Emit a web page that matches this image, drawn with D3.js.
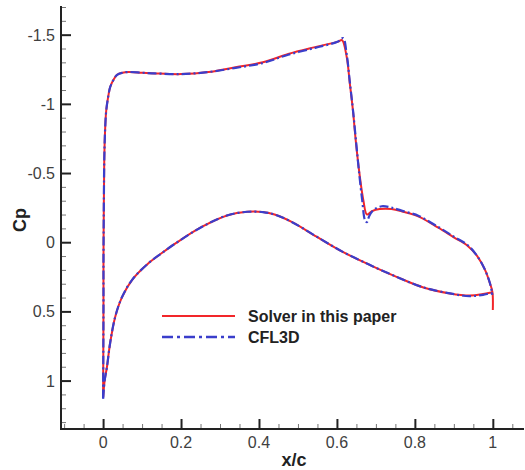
<!DOCTYPE html>
<html>
<head>
<meta charset="utf-8">
<script src="https://cdn.jsdelivr.net/npm/d3@7"></script>
<style>
body { margin: 0; background: #fff; }
svg { display: block; }
.tick-label { font-family: "Liberation Sans", Arial, sans-serif; font-size: 16px; fill: #404040; }
.axis-title { font-family: "Liberation Sans", Arial, sans-serif; font-size: 18px; font-weight: bold; fill: #222; }
.legend-text { font-family: "Liberation Sans", Arial, sans-serif; font-size: 16px; font-weight: bold; fill: #222; }
</style>
</head>
<body>
<svg width="525" height="470"></svg>
<script>
// x/c, Cp pairs
var solverUpper = [
    [0.000, 1.12], [0.0005, 0.85], [0.001, 0.45], [0.001, 0.13], [0.002, -0.3],
    [0.003, -0.59], [0.005, -0.8], [0.008, -0.95], [0.013, -1.05], [0.018, -1.12],
    [0.026, -1.17], [0.036, -1.21], [0.05, -1.225], [0.065, -1.23], [0.1, -1.225],
    [0.133, -1.22], [0.2, -1.215], [0.27, -1.23], [0.34, -1.265], [0.41, -1.30],
    [0.475, -1.36], [0.544, -1.41], [0.603, -1.45], [0.613, -1.46], [0.625, -1.34],
    [0.633, -1.15], [0.641, -0.955], [0.649, -0.715], [0.659, -0.47], [0.668, -0.3],
    [0.677, -0.2], [0.69, -0.225], [0.71, -0.24], [0.74, -0.24], [0.77, -0.22],
    [0.81, -0.185], [0.86, -0.105], [0.9, -0.035], [0.935, 0.025], [0.96, 0.1],
    [0.98, 0.2], [0.993, 0.3], [0.999, 0.36], [1.0, 0.49]
];
var solverLower = [
    [0.000, 1.12], [0.004, 1.0], [0.01, 0.9], [0.018, 0.73], [0.031, 0.54],
    [0.048, 0.40], [0.075, 0.27], [0.115, 0.155], [0.15, 0.08], [0.185, 0.01],
    [0.253, -0.11], [0.32, -0.195], [0.37, -0.22], [0.41, -0.218], [0.44, -0.2],
    [0.485, -0.145], [0.548, -0.04], [0.615, 0.07], [0.685, 0.165], [0.753, 0.25],
    [0.82, 0.325], [0.89, 0.37], [0.94, 0.385], [0.975, 0.375], [0.993, 0.365],
    [1.0, 0.36]
];
var cfl3dUpper = [
    [0.000, 1.13], [0.0005, 0.85], [0.001, 0.45], [0.001, 0.13], [0.002, -0.3],
    [0.003, -0.59], [0.005, -0.8], [0.008, -0.95], [0.013, -1.05], [0.018, -1.12],
    [0.026, -1.17], [0.036, -1.21], [0.05, -1.225], [0.065, -1.23], [0.1, -1.225],
    [0.133, -1.22], [0.2, -1.215], [0.27, -1.23], [0.34, -1.26], [0.41, -1.295],
    [0.475, -1.355], [0.544, -1.405], [0.603, -1.45], [0.616, -1.475], [0.625, -1.36],
    [0.633, -1.16], [0.641, -0.96], [0.649, -0.73], [0.657, -0.5], [0.665, -0.3],
    [0.672, -0.16], [0.677, -0.145], [0.683, -0.19], [0.695, -0.235], [0.715, -0.26],
    [0.74, -0.25], [0.77, -0.225], [0.81, -0.19], [0.86, -0.11], [0.9, -0.04],
    [0.935, 0.02], [0.96, 0.1], [0.98, 0.2], [0.993, 0.3], [0.999, 0.38]
];
var cfl3dLower = [
    [0.000, 1.13], [0.004, 1.0], [0.01, 0.9], [0.018, 0.73], [0.031, 0.54],
    [0.048, 0.40], [0.075, 0.27], [0.115, 0.155], [0.15, 0.08], [0.185, 0.01],
    [0.253, -0.11], [0.32, -0.195], [0.37, -0.22], [0.41, -0.218], [0.44, -0.2],
    [0.485, -0.145], [0.548, -0.04], [0.615, 0.07], [0.685, 0.165], [0.753, 0.25],
    [0.82, 0.325], [0.89, 0.37], [0.94, 0.39], [0.975, 0.38], [0.993, 0.37],
    [1.0, 0.37]
];

var xTicks = [0, 0.2, 0.4, 0.6, 0.8, 1];
var yTicks = [-1.5, -1, -0.5, 0, 0.5, 1];
var legendNames = ["Solver in this paper", "CFL3D"];

var red = "#f2262a";
var blue = "#3a3ecb";

function main() {
    var svg = d3.select("svg");
    var x = d3.scaleLinear().domain([-0.108, 1.08]).range([61, 524]);
    var y = d3.scaleLinear().domain([-1.7, 1.35]).range([7, 429]);

    var xMinor = d3.range(-0.1, 1.08, 0.05).filter(function(v) {
        return Math.abs(v / 0.2 - Math.round(v / 0.2)) > 1e-6;
    });
    var yMinor = d3.range(-1.7, 1.35, 0.1).filter(function(v) {
        return Math.abs(v / 0.5 - Math.round(v / 0.5)) > 1e-6;
    });

    // minor ticks, pointing inward
    var gx = svg.append("g").attr("transform", "translate(0," + y.range()[1] + ")");
    gx.call(d3.axisTop(x).tickValues(xMinor).tickSize(5).tickFormat(""))
        .call(function(g) { g.select(".domain").remove(); })
        .selectAll("line").attr("stroke", "#777").attr("stroke-width", 1);
    var gy = svg.append("g").attr("transform", "translate(" + x.range()[0] + ",0)");
    gy.call(d3.axisRight(y).tickValues(yMinor).tickSize(5).tickFormat(""))
        .call(function(g) { g.select(".domain").remove(); })
        .selectAll("line").attr("stroke", "#777").attr("stroke-width", 1);

    // major ticks
    var gx2 = svg.append("g").attr("transform", "translate(0," + y.range()[1] + ")");
    gx2.call(d3.axisTop(x).tickValues(xTicks).tickSize(10).tickFormat(""));
    gx2.selectAll("line").attr("stroke", "#222").attr("stroke-width", 2);
    gx2.select(".domain").remove();
    var gy2 = svg.append("g").attr("transform", "translate(" + x.range()[0] + ",0)");
    gy2.call(d3.axisRight(y).tickValues(yTicks).tickSize(10).tickFormat(""));
    gy2.selectAll("line").attr("stroke", "#222").attr("stroke-width", 2);
    gy2.select(".domain").remove();

    // axis lines
    svg.append("line")
        .attr("x1", x.range()[0]).attr("x2", x.range()[1])
        .attr("y1", y.range()[1]).attr("y2", y.range()[1])
        .attr("stroke", "#222").attr("stroke-width", 2);
    svg.append("line")
        .attr("x1", x.range()[0]).attr("x2", x.range()[0])
        .attr("y1", y.range()[0] - 1).attr("y2", y.range()[1] + 1)
        .attr("stroke", "#222").attr("stroke-width", 2);

    // tick labels (plain hyphen for minus, as in the original)
    svg.selectAll(".xl").data(xTicks).enter().append("text")
        .attr("class", "tick-label")
        .attr("x", function(d) { return x(d); })
        .attr("y", 448)
        .attr("text-anchor", "middle")
        .text(function(d) { return String(d); });
    svg.selectAll(".yl").data(yTicks).enter().append("text")
        .attr("class", "tick-label")
        .attr("x", 55)
        .attr("y", function(d) { return y(d) + 6; })
        .attr("text-anchor", "end")
        .text(function(d) { return String(d); });

    svg.append("text").attr("class", "axis-title")
        .attr("x", 294).attr("y", 466)
        .attr("text-anchor", "middle")
        .text("x/c");
    svg.append("text").attr("class", "axis-title")
        .attr("transform", "translate(26,220) rotate(-90)")
        .attr("text-anchor", "middle")
        .text("Cp");

    var line = d3.line()
        .x(function(d) { return x(d[0]); })
        .y(function(d) { return y(d[1]); })
        .curve(d3.curveCatmullRom.alpha(0.5));

    [solverUpper, solverLower].forEach(function(d) {
        svg.append("path").datum(d)
            .attr("d", line)
            .attr("fill", "none")
            .attr("stroke", red)
            .attr("stroke-width", 2);
    });
    [cfl3dUpper, cfl3dLower].forEach(function(d) {
        svg.append("path").datum(d)
            .attr("d", line)
            .attr("fill", "none")
            .attr("stroke", blue)
            .attr("stroke-width", 2.2)
            .attr("stroke-dasharray", "9,3,2,3");
    });

    // legend
    var lg = svg.append("g");
    var styles = [
        { color: red, dash: null, w: 2 },
        { color: blue, dash: "11,4,3,4", w: 2.4 }
    ];
    legendNames.forEach(function(name, i) {
        var ly = 316 + i * 21;
        lg.append("line")
            .attr("x1", 162).attr("x2", 235)
            .attr("y1", ly).attr("y2", ly)
            .attr("stroke", styles[i].color)
            .attr("stroke-width", styles[i].w)
            .attr("stroke-dasharray", styles[i].dash);
        lg.append("text").attr("class", "legend-text")
            .attr("x", 248).attr("y", ly + 6)
            .text(name);
    });
}

main();
</script>
</body>
</html>
